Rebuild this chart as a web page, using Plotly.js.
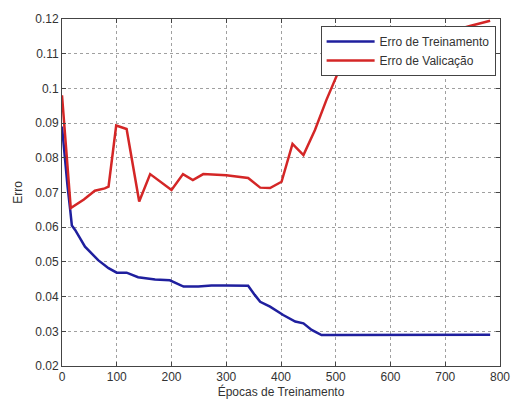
<!DOCTYPE html>
<html>
<head>
<meta charset="utf-8">
<script src="https://cdn.plot.ly/plotly-3.0.1.min.js"></script>
<style>html,body{margin:0;padding:0;background:#fff;}#chart{width:511px;height:400px;}</style>
</head>
<body>
<div id="chart"></div>
<script>
const trainX = [0, 5, 10, 15, 18, 24, 42, 66, 85, 100, 118, 139, 170, 197, 222, 249, 273, 300, 340, 352, 362, 380, 404, 426, 441, 456, 474, 500, 600, 700, 782];
const trainY = [0.089, 0.080, 0.072, 0.065, 0.0605, 0.0592, 0.0544, 0.0505, 0.0482, 0.0469, 0.0469, 0.0456, 0.0449, 0.0447, 0.0429, 0.0429, 0.0432, 0.0432, 0.0431, 0.0405, 0.0385, 0.0371, 0.0347, 0.0328, 0.0323, 0.0304, 0.0289, 0.0289, 0.0289, 0.0289, 0.029];
const valX = [0, 16, 40, 60, 78, 85, 99, 118, 141, 161, 200, 221, 239, 258, 300, 340, 362, 380, 401, 421, 441, 462, 483, 504, 560, 640, 700, 745, 782];
const valY = [0.098, 0.0655, 0.068, 0.0705, 0.0712, 0.0717, 0.0893, 0.0883, 0.0674, 0.0753, 0.0707, 0.0753, 0.0736, 0.0753, 0.0750, 0.0742, 0.0714, 0.0713, 0.0731, 0.084, 0.0808, 0.088, 0.0967, 0.1045, 0.109, 0.113, 0.116, 0.118, 0.1195];
const names = ["Erro de Treinamento", "Erro de Valicação"];
const xTitle = "Épocas de Treinamento";
const yTitle = "Erro";

const font = "Liberation Sans, Arial, sans-serif";
const data = [
  {x: trainX, y: trainY, name: names[0], mode: "lines", line: {color: "#1f1f9e", width: 2.5}},
  {x: valX, y: valY, name: names[1], mode: "lines", line: {color: "#d42626", width: 2.5}}
];
const axisCommon = {
  showline: true, linecolor: "#444", linewidth: 1, mirror: "ticks",
  ticks: "inside", ticklen: 4, tickcolor: "#444",
  showgrid: true, gridcolor: "#a0a0a0", griddash: "dot", gridwidth: 1,
  zeroline: false, tickfont: {family: font, size: 12, color: "#333"}
};
const layout = {
  width: 511, height: 400,
  margin: {l: 62, r: 11, t: 19, b: 34},
  paper_bgcolor: "#fff", plot_bgcolor: "#fff",
  showlegend: true,
  legend: {x: 0.99, y: 0.98, xanchor: "right", yanchor: "top",
    bgcolor: "#fff", bordercolor: "#444", borderwidth: 1, itemwidth: 48,
    font: {family: font, size: 12, color: "#333"}, tracegroupgap: 0},
  xaxis: Object.assign({}, axisCommon, {range: [0, 800], dtick: 100, tick0: 0,
    title: {text: xTitle, font: {family: font, size: 12, color: "#333"}, standoff: 3}}),
  yaxis: Object.assign({}, axisCommon, {range: [0.02, 0.12], dtick: 0.01, tick0: 0.02,
    title: {text: yTitle, font: {family: font, size: 12, color: "#333"}, standoff: 10}})
};
Plotly.newPlot("chart", data, layout, {displayModeBar: false, staticPlot: true});
</script>
</body>
</html>
